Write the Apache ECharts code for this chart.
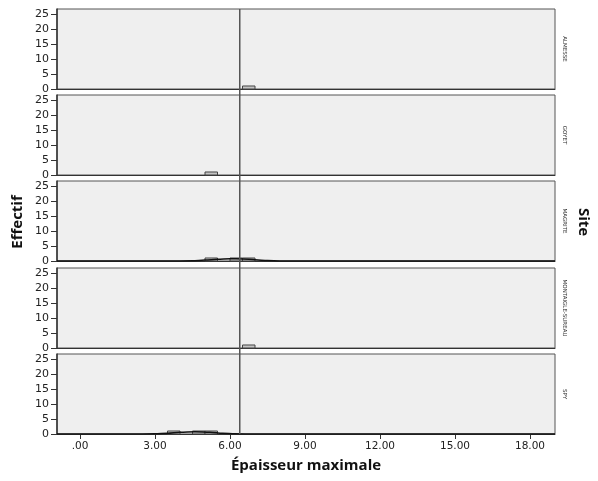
<!DOCTYPE html>
<html><head><meta charset="utf-8">
<script src="https://cdn.jsdelivr.net/npm/echarts@6/dist/echarts.min.js"></script>
<style>html,body{margin:0;padding:0;background:#fff}#c{width:598px;height:481px}</style>
</head><body><div id="c"></div>
<script>
// ---- data ----
const sites = ["ALMESSE", "GOYET", "MAGRITE", "MONTAIGLE-SUREAU", "SPY"];
// histogram bins per site: [binStart, binEnd, count]
const binsAlmesse = [[6.5, 7.0, 1]];
const binsGoyet = [[5.0, 5.5, 1]];
const binsMagrite = [[5.0, 5.5, 1], [6.0, 6.5, 1], [6.5, 7.0, 1]];
const binsMontaigle = [[6.5, 7.0, 1]];
const binsSpy = [[3.5, 4.0, 1], [4.5, 5.0, 1], [5.0, 5.5, 1]];
// fitted normal curves: [x, y]
const curveMagrite = [[-0.92, 0], [3.5, 0], [4.5, 0.05], [5.0, 0.3], [5.5, 0.6], [6.0, 0.78], [6.5, 0.7], [7.0, 0.42], [7.5, 0.15], [8.0, 0.04], [9.0, 0], [12.0, 0], [19.0, 0]];
const curveSpy = [[-0.92, 0], [2.0, 0], [3.0, 0.06], [3.5, 0.22], [4.0, 0.55], [4.6, 0.78], [5.2, 0.58], [5.7, 0.24], [6.2, 0.06], [7.0, 0], [10.0, 0], [19.0, 0]];
const meanLine = 6.39;
const xTicks = [0, 3, 6, 9, 12, 15, 18];
const yTicks = [0, 5, 10, 15, 20, 25];
const allBins = [binsAlmesse, binsGoyet, binsMagrite, binsMontaigle, binsSpy];
const allCurves = [null, null, curveMagrite, null, curveSpy];

// ---- layout ----
const L = 57, W = 498, H = 80;
const tops = [9, 95, 181, 268, 354];
const xMin = -0.92, xMax = 19.0, yMax = 26.6;
const FONT = "DejaVu Sans";

const grids = [], xAxes = [], yAxes = [], series = [], graphics = [];
tops.forEach((t, i) => {
  const last = i === tops.length - 1;
  grids.push({left: L, top: t, width: W, height: H, show: true, backgroundColor: '#efefef', borderColor: '#555', borderWidth: 1, z: 0});
  xAxes.push({
    type: 'value', gridIndex: i, min: xMin, max: xMax,
    axisLine: {show: true, onZero: false, lineStyle: {color: '#333', width: 1}},
    splitLine: {show: false},
    axisTick: {show: last, length: 5, customValues: xTicks, lineStyle: {color: '#333'}},
    axisLabel: {show: last, customValues: xTicks, margin: 7, color: '#222', fontFamily: FONT, fontSize: 10.5,
      formatter: v => v === 0 ? '.00' : v.toFixed(2)}
  });
  yAxes.push({
    type: 'value', gridIndex: i, min: 0, max: yMax,
    axisLine: {show: true, onZero: false, lineStyle: {color: '#333', width: 1.5}},
    splitLine: {show: false},
    axisTick: {show: true, length: 6, customValues: yTicks, lineStyle: {color: '#333'}},
    axisLabel: {customValues: yTicks, margin: 8, color: '#222', fontFamily: FONT, fontSize: 11}
  });
  series.push({
    type: 'custom', xAxisIndex: i, yAxisIndex: i, z: 3,
    data: allBins[i],
    renderItem: (params, api) => {
      const p0 = api.coord([api.value(0), 0]);
      const p1 = api.coord([api.value(1), api.value(2)]);
      return {type: 'rect', shape: {x: p0[0], y: p1[1], width: p1[0] - p0[0], height: p0[1] - p1[1]},
        style: {fill: '#c4c4c4', stroke: '#444', lineWidth: 1}};
    }
  });
  if (allCurves[i]) {
    series.push({type: 'line', xAxisIndex: i, yAxisIndex: i, data: allCurves[i], smooth: 0.3, smoothMonotone: 'x', symbol: 'none', z: 4,
      lineStyle: {color: '#111', width: 1.5}});
  }
  graphics.push({type: 'text', x: L + W + 9, y: t + H / 2, rotation: -Math.PI / 2,
    style: {text: sites[i], font: '5.5px "' + FONT + '"', fill: '#333', align: 'center', verticalAlign: 'middle'}});
});
// overlay grid for the continuous mean line
const gTop = tops[0], gBottom = tops[tops.length - 1] + H;
grids.push({left: L, top: gTop, width: W, height: gBottom - gTop, show: false});
xAxes.push({type: 'value', gridIndex: 5, min: xMin, max: xMax, show: false});
yAxes.push({type: 'value', gridIndex: 5, min: 0, max: 1, show: false});
series.push({type: 'line', xAxisIndex: 5, yAxisIndex: 5, data: [[meanLine, 0], [meanLine, 1]], symbol: 'none', z: 5,
  lineStyle: {color: '#555', width: 1.5}});

graphics.push({type: 'text', x: 18, y: 222, rotation: Math.PI / 2,
  style: {text: 'Effectif', font: 'bold 15px "Open Sans"', fill: '#111', align: 'center', verticalAlign: 'middle'}});
graphics.push({type: 'text', x: 583, y: 222, rotation: -Math.PI / 2,
  style: {text: 'Site', font: 'bold 15px "Open Sans"', fill: '#111', align: 'center', verticalAlign: 'middle'}});
graphics.push({type: 'text', x: 306, y: 466,
  style: {text: 'Épaisseur maximale', font: 'bold 15px "Open Sans"', fill: '#111', align: 'center', verticalAlign: 'middle'}});

const chart = echarts.init(document.getElementById('c'), null, {renderer: 'canvas'});
chart.setOption({animation: false, grid: grids, xAxis: xAxes, yAxis: yAxes, series: series, graphic: graphics});
</script></body></html>
